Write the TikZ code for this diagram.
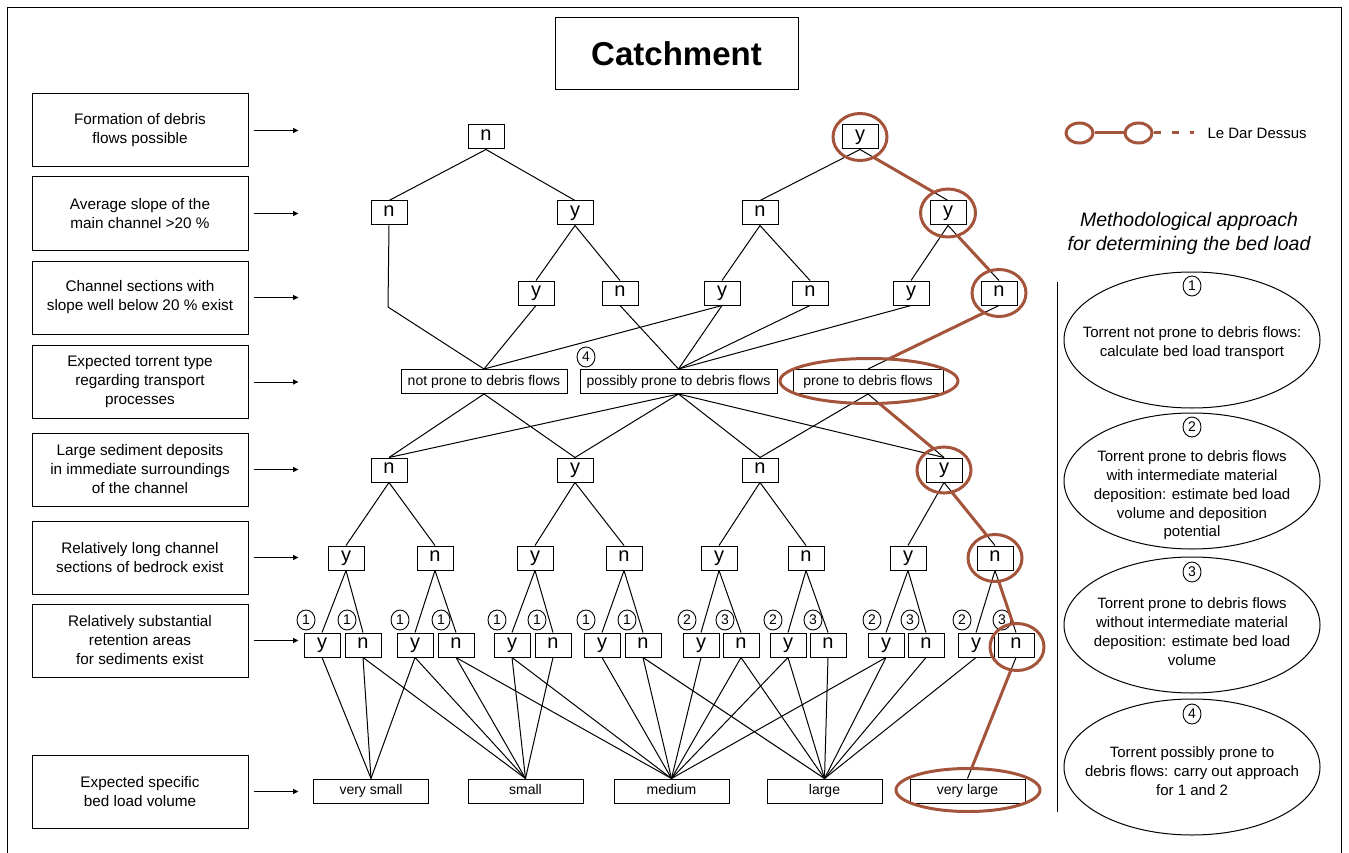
\documentclass[tikz,border=0pt]{standalone}
\usepackage{fontspec}
\setmainfont{Liberation Sans}
\usetikzlibrary{shapes.geometric,arrows.meta,intersections}
\definecolor{rust}{RGB}{163,84,58}
\newcommand\rustseg[4]{%
  \path[name path=rsl] (#1.south) -- (#2.north);
  \path[name intersections={of=rsl and #3, by=rsA}];
  \path[name intersections={of=rsl and #4, by=rsB}];
  \draw[hl] (rsA) -- (rsB);
}
\begin{document}
\begin{tikzpicture}[x=1pt,y=-1pt,
  every node/.style={font=\fontsize{14}{17}\selectfont},
  lbox/.style={draw, line width=1pt, minimum width=216pt, minimum height=73pt, align=center, inner sep=0pt, font=\fontsize{15.3}{19}\selectfont},
  yn/.style={draw, line width=1pt, minimum width=36pt, minimum height=24pt, inner sep=0pt, text height=10.5pt, text depth=4pt, font=\fontsize{20}{20}\selectfont},
  tb/.style={draw, line width=1pt, minimum height=24pt, inner sep=0pt, text height=10pt, text depth=3pt, font=\fontsize{14}{17}\selectfont},
  num/.style={draw, ellipse, line width=0.9pt, minimum width=18pt, minimum height=20pt, inner sep=0pt, font=\fontsize{14}{14}\selectfont},
  oval/.style={draw, ellipse, line width=1pt, minimum width=256pt, minimum height=136pt},
  ovaltext/.style={align=center, font=\fontsize{15}{18.8}\selectfont},
  edge/.style={line width=1pt},
  arr/.style={line width=1pt, -{Triangle[length=5.5pt,width=5pt]}},
  hl/.style={draw=rust, line width=3pt},
]
\useasboundingbox (0,0) rectangle (1349,853);
\draw[line width=1pt] (7,853) -- (7,8) -- (1341,8) -- (1341,853);
\node[draw, line width=1pt, minimum width=243pt, minimum height=72pt, font=\fontsize{33}{33}\selectfont\bfseries] (title) at (676.5,54) {Catchment};

% left boxes
\node[lbox] (l1) at (140,130.5) {Formation of debris\\flows possible};
\node[lbox] (l2) at (140,213.5) {Average slope of the\\main channel >20 \%};
\node[lbox] (l3) at (140,297.5) {Channel sections with\\slope well below 20 \% exist};
\node[lbox] (l4) at (140,382) {Expected torrent type\\regarding transport\\processes};
\node[lbox] (l5) at (140,469.5) {Large sediment deposits\\in immediate surroundings\\of the channel};
\node[lbox] (l6) at (140,557.5) {Relatively long channel\\sections of bedrock exist};
\node[lbox] (l7) at (140,640.5) {Relatively substantial\\retention areas\\for sediments exist};
\node[lbox] (l8) at (140,791.5) {Expected specific\\bed load volume};
\foreach \n in {1,...,8} \draw[arr] ([xshift=5pt]l\n.east) -- ++(45,0);

% tree
\node[yn] (a1) at (486,137) {n};
\node[yn] (a2) at (860,137) {y};
\node[yn] (b1) at (389,213) {n};
\node[yn] (b2) at (575,213) {y};
\node[yn] (b3) at (760,213) {n};
\node[yn] (b4) at (948,213) {y};
\node[yn] (c1) at (536,293) {y};
\node[yn] (c2) at (620,293) {n};
\node[yn] (c3) at (722,293) {y};
\node[yn] (c4) at (810,293) {n};
\node[yn] (c5) at (911,293) {y};
\node[yn] (c6) at (999,293) {n};
\node[tb, minimum width=166pt] (np) at (484,381.5) {not prone to debris flows};
\node[tb, minimum width=197pt] (pp) at (678.5,381.5) {possibly prone to debris flows};
\node[tb, minimum width=150pt] (pr) at (868,381.5) {prone to debris flows};
\node[num] (k4) at (586,357) {4};
\node[yn] (e1) at (389,470) {n};
\node[yn] (e2) at (575,470) {y};
\node[yn] (e3) at (760,470) {n};
\node[yn] (e4) at (944,470) {y};
\foreach \x/\t [count=\i] in {346/y,435/n,535/y,624/n,719/y,806/n,908/y,995/n}
  \node[yn] (f\i) at (\x,558) {\t};
\foreach \x/\t [count=\i] in {322/y,363/n,415/y,456/n,512/y,553/n,602/y,643/n,701/y,741/n,788/y,828/n,886/y,926/n,976/y,1016/n}
  \node[yn] (g\i) at (\x,645) {\t};
\foreach \x/\t [count=\i] in {306/1,347/1,400/1,441/1,497/1,537/1,586/1,627/1,687/2,725/3,773/2,813/3,872/2,910/3,962/2,1002/3}
  \node[num] (h\i) at (\x,620) {\t};
\node[tb, minimum width=115pt] (o1) at (371,791) {very small};
\node[tb, minimum width=115pt] (o2) at (525.5,791) {small};
\node[tb, minimum width=115pt] (o3) at (671.5,791) {medium};
\node[tb, minimum width=115pt] (o4) at (824.5,791) {large};
\node[tb, minimum width=115pt] (o5) at (967.5,791) {very large};

\foreach \a/\b in {a1/b1,a1/b2,a2/b3,a2/b4,
  b2/c1,b2/c2,b3/c3,b3/c4,b4/c5,b4/c6,
  c1/np,c3/np,c2/pp,c3/pp,c4/pp,c5/pp,c6/pr,
  np/e1,np/e2,pp/e1,pp/e2,pp/e3,pp/e4,pr/e3,pr/e4,
  e1/f1,e1/f2,e2/f3,e2/f4,e3/f5,e3/f6,e4/f7,e4/f8,
  f1/g1,f1/g2,f2/g3,f2/g4,f3/g5,f3/g6,f4/g7,f4/g8,
  f5/g9,f5/g10,f6/g11,f6/g12,f7/g13,f7/g14,f8/g15,f8/g16,
  g1/o1,g2/o1,g2/o2,g3/o1,g3/o2,g4/o2,g4/o3,g5/o2,g5/o3,g6/o2,
  g7/o3,g8/o3,g8/o4,g9/o3,g10/o3,g10/o4,g11/o3,g11/o4,g12/o4,
  g13/o3,g13/o4,g14/o4,g15/o4,g16/o5}
  \draw[edge] (\a.south) -- (\b.north);
\coordinate (bend) at (388,307);
\draw[edge] (b1.south) -- (bend) -- (np.north);

% highlighted path
\draw[hl, name path=R1] (a2) ellipse [x radius=27pt, y radius=23.5pt];
\draw[hl, name path=R2] (b4) ellipse [x radius=27.5pt, y radius=24pt];
\draw[hl, name path=R3] (c6) ellipse [x radius=27pt, y radius=23.5pt];
\draw[hl, name path=RP] (869,381) ellipse [x radius=89pt, y radius=22.5pt];
\draw[hl, name path=R5] (e4) ellipse [x radius=27pt, y radius=23pt];
\draw[hl, name path=R6] (f8) ellipse [x radius=27pt, y radius=23.5pt];
\draw[hl, name path=R7] (1017,647) ellipse [x radius=27pt, y radius=23.5pt];
\draw[hl, name path=RV] (968,790) ellipse [x radius=72pt, y radius=21.5pt];
\rustseg{a2}{b4}{R1}{R2}
\rustseg{b4}{c6}{R2}{R3}
\rustseg{c6}{pr}{R3}{RP}
\rustseg{pr}{e4}{RP}{R5}
\rustseg{e4}{f8}{R5}{R6}
\rustseg{f8}{g16}{R6}{R7}
\rustseg{g16}{o5}{R7}{RV}

% legend
\node[draw=rust, line width=3pt, ellipse, minimum width=27pt, minimum height=20pt, inner sep=0pt] (lg1) at (1079.5,133) {};
\node[draw=rust, line width=3pt, ellipse, minimum width=27pt, minimum height=20pt, inner sep=0pt] (lg2) at (1138.5,133) {};
\coordinate (lgend) at (1194,133);
\draw[hl] (lg1) -- (lg2);
\draw[hl, dash pattern=on 7pt off 11pt] (lg2.east) -- (lgend);
\node[anchor=west, font=\fontsize{15}{18}\selectfont] (lgt) at (1204,133) {Le Dar Dessus};

% methodology
\node[align=center, font=\fontsize{19.5}{23.5}\selectfont\itshape] (meth) at (1189,233.5) {Methodological approach\\for determining the bed load};
\coordinate (vt) at (1057,282);
\coordinate (vb) at (1057,812);
\draw[line width=1pt] (vt) -- (vb);
\node[oval] (v1) at (1192,340) {};
\node[num] (v1n) at (1192,286) {1};
\node[ovaltext] (v1t) at (1192,343) {Torrent not prone to debris flows:\\calculate bed load transport};
\node[oval] (v2) at (1192,481) {};
\node[num] (v2n) at (1192,427) {2};
\node[ovaltext] (v2t) at (1192,495.5) {Torrent prone to debris flows\\with intermediate material\\deposition: estimate bed load\\volume and deposition\\potential};
\node[oval] (v3) at (1192,625) {};
\node[num] (v3n) at (1192,572) {3};
\node[ovaltext] (v3t) at (1192,631.5) {Torrent prone to debris flows\\without intermediate material\\deposition: estimate bed load\\volume};
\node[oval] (v4) at (1192,767) {};
\node[num] (v4n) at (1192,714) {4};
\node[ovaltext] (v4t) at (1192,771) {Torrent possibly prone to\\debris flows: carry out approach\\for 1 and 2};
\end{tikzpicture}
\end{document}
